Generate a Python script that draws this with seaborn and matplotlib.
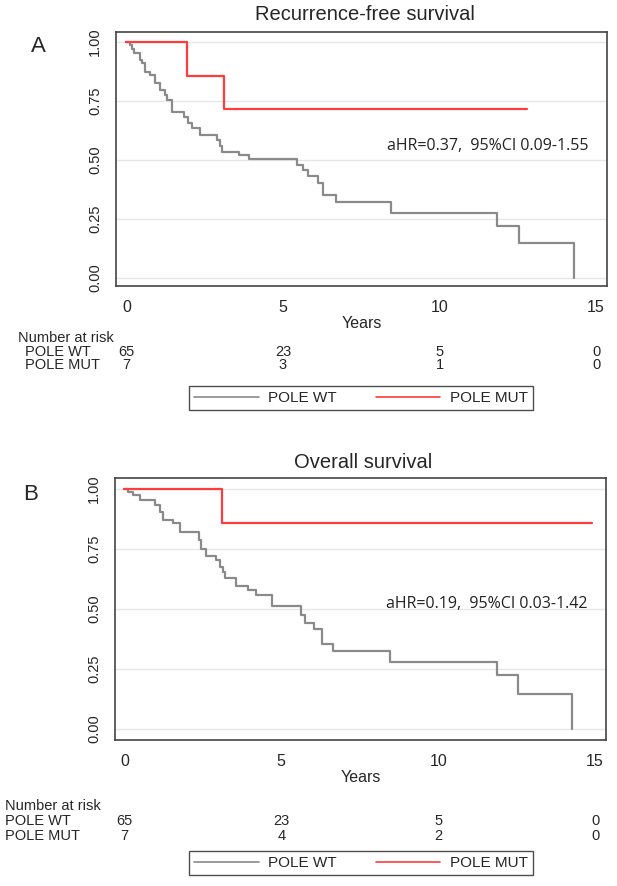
import matplotlib
matplotlib.use("Agg")
import matplotlib.pyplot as plt
import matplotlib.transforms as mtransforms
from matplotlib.lines import Line2D
import seaborn as sns
import pandas as pd

# ---------------- data ----------------
rfs_wt_t = [0, 0.07, 0.12, 0.18, 0.23, 0.42, 0.50, 0.60, 0.76, 0.92, 1.08, 1.24, 1.30, 1.45,
            1.83, 1.98, 2.09, 2.36, 2.89, 2.99, 3.05, 3.58, 3.90, 5.44, 5.65, 5.81, 6.13,
            6.28, 6.69, 8.46, 11.85, 12.55, 14.3]
rfs_wt_s = [1.0, 1.0, 0.985, 0.97, 0.952, 0.924, 0.91, 0.874, 0.860, 0.825, 0.797, 0.775, 0.754, 0.705,
            0.684, 0.655, 0.637, 0.606, 0.585, 0.557, 0.535, 0.521, 0.503, 0.479, 0.458, 0.432, 0.401,
            0.352, 0.321, 0.274, 0.220, 0.148, 0.0]
rfs_mut_t = [0, 1.93, 3.13, 12.8]
rfs_mut_s = [1.0, 0.857, 0.714, 0.714]

os_wt_t = [0, 0.12, 0.28, 0.49, 0.97, 1.13, 1.23, 1.55, 1.76, 2.38, 2.45, 2.59, 2.93, 3.05,
           3.14, 3.22, 3.56, 3.93, 4.20, 4.70, 5.62, 5.76, 6.05, 6.29, 6.65, 8.48, 11.87,
           12.56, 14.27]
os_wt_s = [1.0, 0.989, 0.975, 0.954, 0.933, 0.906, 0.870, 0.857, 0.822, 0.787, 0.752, 0.720, 0.703, 0.675,
           0.655, 0.630, 0.595, 0.578, 0.557, 0.511, 0.474, 0.442, 0.418, 0.355, 0.326, 0.278, 0.223,
           0.146, 0.0]
os_mut_t = [0, 3.12, 14.9]
os_mut_s = [1.0, 0.857, 0.857]

risk_times = [0, 5, 10, 15]
rfs_risk_wt = [65, 23, 5, 0]
rfs_risk_mut = [7, 3, 1, 0]
os_risk_wt = [65, 23, 5, 0]
os_risk_mut = [7, 4, 2, 0]

group_labels = ["POLE WT", "POLE MUT"]
y_ticks = [0.0, 0.25, 0.5, 0.75, 1.0]
x_ticks = [0, 5, 10, 15]

# ---------------- style ----------------
sns.set_style("white")
plt.rcParams["font.family"] = ["Liberation Sans", "DejaVu Sans"]

GRAY = "#8a8a8a"
RED = "#ff3b3b"

fig = plt.figure(figsize=(6.17, 8.86), dpi=100)
W, H = 617.0, 886.0


def fx(px):
    return px / W


def fy(py):
    return 1 - py / H


def panel(box, title, letter, letter_xy, t_wt, s_wt, t_mut, s_mut, xlim, ylim,
          hr_text, hr_y, risk_wt, risk_mut, risk_rows_y, risk_label_x, legend_y, title_y):
    l, t, r, b = box
    ax = fig.add_axes([fx(l), fy(b), fx(r) - fx(l), (b - t) / H])
    df_wt = pd.DataFrame({"t": t_wt, "s": s_wt})
    df_mut = pd.DataFrame({"t": t_mut, "s": s_mut})
    sns.lineplot(data=df_wt, x="t", y="s", ax=ax, color=GRAY, lw=1.6,
                 drawstyle="steps-post", estimator=None, sort=False)
    sns.lineplot(data=df_mut, x="t", y="s", ax=ax, color=RED, lw=1.6,
                 drawstyle="steps-post", estimator=None, sort=False)
    ax.set_xlim(*xlim)
    ax.set_ylim(*ylim)
    ax.set_yticks(y_ticks)
    ax.set_yticklabels([f"{v:.2f}" for v in y_ticks], rotation=90, va="center", fontsize=10.5)
    ax.set_xticks(x_ticks)
    ax.set_xticklabels([str(v) for v in x_ticks], fontsize=11.5)
    ax.tick_params(axis="both", direction="out", length=6, width=1, color="#333333", pad=4)
    ax.yaxis.grid(True, color="#e6e6e6", lw=1)
    ax.xaxis.grid(False)
    ax.set_axisbelow(True)
    for sp in ax.spines.values():
        sp.set_color("#444444")
        sp.set_linewidth(1.2)
    ax.set_xlabel("Years", fontsize=11.5, labelpad=1)
    ax.set_ylabel("")
    fig.text(fx((l + r) / 2 + 3), fy(title_y), title, ha="center", va="center", fontsize=14.5)
    fig.text(fx(letter_xy[0]), fy(letter_xy[1]), letter, ha="center", va="center", fontsize=16)
    ax.text(0.962, hr_y, hr_text, transform=ax.transAxes, ha="right", va="center",
            fontsize=11.5, family=["Open Sans", "DejaVu Sans"], color="#222222")

    # risk table
    tr = mtransforms.blended_transform_factory(ax.transData, fig.transFigure)
    fig.text(fx(risk_label_x[0]), fy(risk_rows_y[0]), "Number at risk", ha="left",
             va="center", fontsize=10.5)
    fig.text(fx(risk_label_x[1]), fy(risk_rows_y[1]), group_labels[0], ha="left",
             va="center", fontsize=10.5)
    fig.text(fx(risk_label_x[1]), fy(risk_rows_y[2]), group_labels[1], ha="left",
             va="center", fontsize=10.5)
    for xt, a, bb in zip(risk_times, risk_wt, risk_mut):
        ax.text(xt, fy(risk_rows_y[1]), str(a), transform=tr, ha="center", va="center",
                fontsize=10.5, clip_on=False)
        ax.text(xt, fy(risk_rows_y[2]), str(bb), transform=tr, ha="center", va="center",
                fontsize=10.5, clip_on=False)

    handles = [Line2D([], [], color=GRAY, lw=1.2), Line2D([], [], color=RED, lw=1.2)]
    leg = fig.legend(handles, group_labels, loc="center",
                     bbox_to_anchor=(fx(361), fy(legend_y)), ncol=2, frameon=True,
                     fancybox=False, edgecolor="#222222", fontsize=11, handlelength=4.2,
                     columnspacing=2.6, handletextpad=0.6, borderpad=0.35)
    leg.get_frame().set_linewidth(1.0)
    return ax


panel((116, 32, 607, 286), "Recurrence-free survival", "A", (38, 47),
      rfs_wt_t, rfs_wt_s, rfs_mut_t, rfs_mut_s,
      (-0.335, 15.35), (-0.034, 1.042),
      "aHR=0.37,  95%CI 0.09-1.55", 0.55,
      rfs_risk_wt, rfs_risk_mut, (338, 352, 365), (18, 25), 398, 14)

panel((115, 478, 606, 740), "Overall survival", "B", (31, 494),
      os_wt_t, os_wt_s, os_mut_t, os_mut_s,
      (-0.30, 15.35), (-0.046, 1.046),
      "aHR=0.19,  95%CI 0.03-1.42", 0.52,
      os_risk_wt, os_risk_mut, (806, 821, 836), (5, 5), 863, 462)

fig.savefig("out.png", dpi=100)
